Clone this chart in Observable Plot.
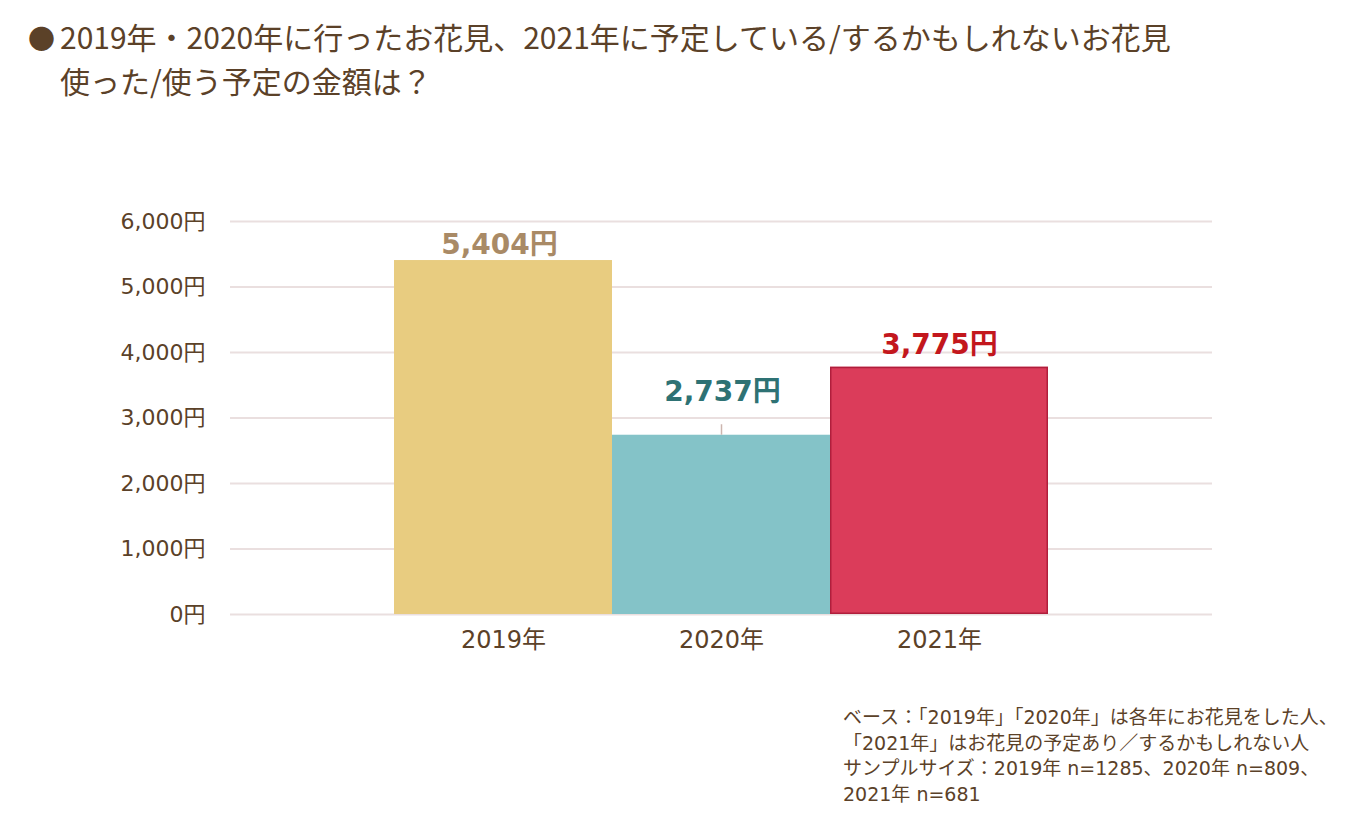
<!DOCTYPE html>
<html lang="ja">
<head>
<meta charset="utf-8">
<script src="https://cdn.jsdelivr.net/npm/d3@7"></script>
<script src="https://cdn.jsdelivr.net/npm/@observablehq/plot@0.6"></script>
<style>
  html, body { margin: 0; padding: 0; background: #ffffff; }
  #page {
    position: relative; width: 1367px; height: 834px; overflow: hidden;
    font-family: "Noto Sans CJK JP", "Noto Sans", sans-serif; color: #5b4128;
  }
  #title {
    position: absolute; left: 28px; top: 15px;
    font-size: 30px; line-height: 42px; white-space: nowrap;
  }
  #title .bullet { display: inline-block; width: 32px; font-size: 27px; }
  #title .line2 { padding-left: 32px; }
  #chart { position: absolute; left: 0; top: 120px; }
  #note {
    position: absolute; left: 843px; top: 705px;
    font-family: "DejaVu Sans", "Noto Sans CJK JP", sans-serif;
    font-size: 19px; line-height: 25.7px; white-space: nowrap;
  }
</style>
</head>
<body>
<div id="page">
  <div id="title">
    <div><span class="bullet">●</span>2019年・2020年に行ったお花見、2021年に予定している/するかもしれないお花見</div>
    <div class="line2">使った/使う予定の金額は？</div>
  </div>
  <div id="chart"></div>
  <div id="note">
    <div>ベース：「2019年」「2020年」は各年にお花見をした人、</div>
    <div>「2021年」はお花見の予定あり／するかもしれない人</div>
    <div>サンプルサイズ：2019年 n=1285、2020年 n=809、</div>
    <div>2021年 n=681</div>
  </div>
</div>
<script>
// Average spend on hanami (cherry-blossom viewing), by year
const years = ["2019年", "2020年", "2021年"];
const amounts = [5404, 2737, 3775];
const barColors = ["#e8cc80", "#84c3c8", "#db3c5a"];
const labelColors = ["#a98a66", "#2e7274", "#c3171d"];
const yTicks = [0, 1000, 2000, 3000, 4000, 5000, 6000];

const rows = years.map((year, i) => ({
  year, amount: amounts[i], fill: barColors[i], labelColor: labelColors[i]
}));

const yen = d => d3.format(",")(d) + "円";

// value label above one bar, with its own offset
const valueLabel = (year, dx, dy) => Plot.text(rows.filter(d => d.year === year), {
  x: "year", y: "amount", text: d => yen(d.amount), fill: "labelColor",
  dx, dy, fontSize: 28, fontWeight: "bold", lineAnchor: "middle"
});

const chart = Plot.plot({
  width: 1367,
  height: 560,
  marginTop: 101,
  marginBottom: 66,
  marginLeft: 230,
  marginRight: 155,
  style: { fontFamily: '"DejaVu Sans", "Noto Sans CJK JP", sans-serif', color: "#5b4128", background: "transparent" },
  x: { domain: years, paddingInner: 0, paddingOuter: 0.75, align: 0.5 },
  y: { domain: [0, 6000] },
  marks: [
    Plot.ruleY(yTicks, { stroke: "#eadfdf", strokeWidth: 2 }),
    Plot.barY(rows, { x: "year", y: "amount", fill: "fill" }),
    Plot.barY(rows.filter(d => d.year === "2021年"), {
      x: "year", y: "amount", fill: "none", stroke: "#b01e3c", strokeWidth: 1.5, inset: 0.75
    }),
    Plot.ruleX(rows.filter(d => d.year === "2020年"), {
      x: "year", y1: "amount", y2: d => d.amount + 160, stroke: "#ccb5ae", strokeWidth: 1.5
    }),
    valueLabel("2019年", -4, -16),
    valueLabel("2020年", 1, -43),
    valueLabel("2021年", 0, -22),
    Plot.axisY({ ticks: yTicks, tickFormat: yen, tickSize: 0, tickPadding: 25, fontSize: 22, label: null }),
    Plot.axisX({ tickSize: 0, tickPadding: 16, fontSize: 24, label: null })
  ]
});

document.getElementById("chart").appendChild(chart);
</script>
</body>
</html>
